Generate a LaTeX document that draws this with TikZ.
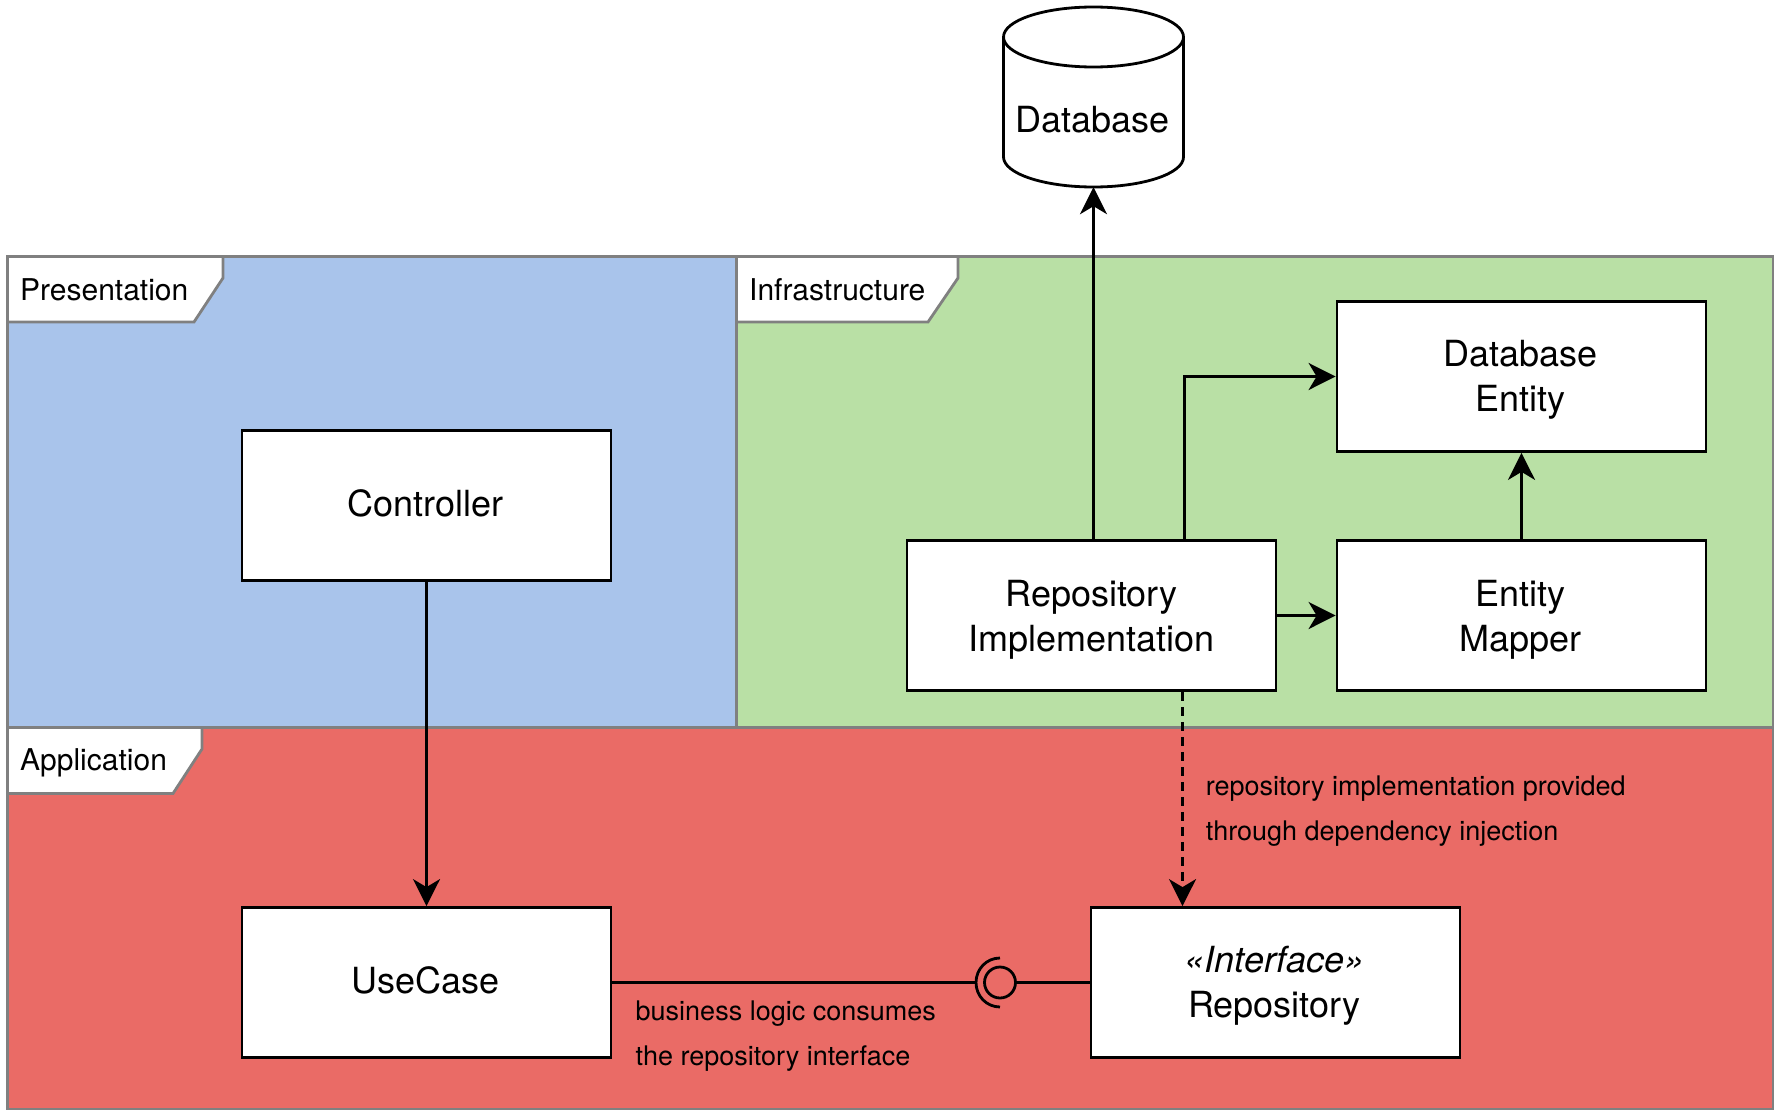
\documentclass[tikz,border=0pt]{standalone}
\usepackage{fontspec}
\setmainfont{TeX Gyre Heros}
\usetikzlibrary{arrows.meta,calc}
\definecolor{panelblue}{HTML}{A9C4EB}
\definecolor{panelgreen}{HTML}{B9E0A5}
\definecolor{panelred}{HTML}{EA6B66}
\definecolor{panelgrey}{HTML}{808080}
\newcommand{\firstline}{\rule{0pt}{35pt}}
\newcommand{\firstlinehi}{\rule{0pt}{33pt}}
\newcommand{\nudge}{\hspace*{2.2pt}}
\newcommand{\oneline}[1]{\raisebox{-11.3pt}[0pt][0pt]{#1\nudge}}
\tikzset{
  panel/.style={draw=panelgrey,line width=2.8pt},
  tabshape/.style={draw=panelgrey,fill=white,line width=2.8pt,line join=miter},
  tabtext/.style={inner sep=0pt,anchor=west,font=\fontsize{30}{36}\selectfont},
  boxnode/.style={draw=black,fill=white,line width=2.8pt,minimum width=369pt,minimum height=150pt,inner sep=0pt,align=center,font=\fontsize{36}{45}\selectfont},
  link/.style={draw=black,line width=2.8pt},
  arrowlink/.style={link,-{Stealth[length=27pt,width=27pt,inset=8pt]}},
  note/.style={inner sep=0pt,anchor=west,font=\fontsize{27}{32}\selectfont},
}
\begin{document}
\begin{tikzpicture}[x=1pt,y=-1pt]
\useasboundingbox (0,0) rectangle (1779,1116);
% panels
\fill[panelblue] (7.5,256.5) rectangle (736.5,727.5);
\fill[panelgreen] (736.5,256.5) rectangle (1773,727.5);
\fill[panelred] (7.5,727.5) rectangle (1773,1109);
\draw[panel] (7.5,256.5) rectangle (736.5,727.5);
\draw[panel] (736.5,256.5) rectangle (1773,727.5);
\draw[panel] (7.5,727.5) rectangle (1773,1109);
% tabs
\draw[tabshape] (7.5,256.5) -- (223,256.5) -- (223,278) -- (194,322) -- (7.5,322) -- cycle;
\node[tabtext] (tabp) at (20,290) {Presentation};
\draw[tabshape] (736.5,256.5) -- (958,256.5) -- (958,278) -- (928,322) -- (736.5,322) -- cycle;
\node[tabtext] (tabi) at (749,290) {Infrastructure};
\draw[tabshape] (7.5,727.5) -- (202,727.5) -- (202,749) -- (173,793.5) -- (7.5,793.5) -- cycle;
\node[tabtext] (taba) at (20,762.5) {Application};
% database
\draw[draw=black,fill=white,line width=2.8pt]
  (1003.5,37) .. controls (1003.5,20.5) and (1043.5,7) .. (1093.5,7)
  .. controls (1143.5,7) and (1183.5,20.5) .. (1183.5,37)
  -- (1183.5,157) .. controls (1183.5,173.5) and (1143.5,187) .. (1093.5,187)
  .. controls (1043.5,187) and (1003.5,173.5) .. (1003.5,157) -- cycle;
\draw[draw=black,line width=2.8pt]
  (1003.5,37) .. controls (1003.5,53.5) and (1043.5,67) .. (1093.5,67)
  .. controls (1143.5,67) and (1183.5,53.5) .. (1183.5,37);
\node[minimum width=180pt,minimum height=180pt,inner sep=0pt,font=\fontsize{36}{45}\selectfont] (db) at (1093.5,97) {\raisebox{-35pt}[0pt][0pt]{Database\nudge}};
% boxes
\node[boxnode] (ctrl) at (426.5,505.5) {\oneline{Controller}};
\node[boxnode] (uc) at (426.5,982.5) {\oneline{UseCase}};
\node[boxnode] (repo) at (1275.5,982.5) {\firstlinehi\textit{«Interface»}\nudge\\Repository\nudge};
\node[boxnode] (impl) at (1091.5,615.5) {\firstline Repository\\Implementation};
\node[boxnode] (ent) at (1521.5,376.5) {\firstlinehi Database\nudge\\Entity\nudge};
\node[boxnode] (map) at (1521.5,615.5) {\firstline Entity\nudge\\Mapper\nudge};
% socket
\node[draw=black,line width=2.8pt,circle,minimum size=31pt,inner sep=0pt] (sock) at (1000,982.5) {};
\coordinate (sockl) at (976,982.5);
\draw[link] (1000,958) .. controls (986.5,958) and (976,969) .. (sockl)
  .. controls (976,996) and (986.5,1007) .. (1000,1007);
% connectors
\draw[arrowlink] (ctrl) -- (uc);
\draw[arrowlink] ([xshift=2pt]impl.north) -- (db.south);
\draw[arrowlink] ([xshift=93pt]impl.north) |- (ent.west);
\draw[arrowlink] (impl) -- (map);
\draw[arrowlink] (map) -- (ent);
\draw[arrowlink,dash pattern=on 9pt off 6pt] ([xshift=91pt]impl.south) -- ([xshift=91pt]impl.south |- repo.north);
\draw[link] (uc.east) -- (sockl);
\draw[link] (sock.east) -- (repo.west);
% notes
\node[note] (n1) at (1205.7,789) {repository implementation provided};
\node[note] (n2) at (1205.7,834) {through dependency injection};
\node[note] (n3) at (635.5,1014) {business logic consumes};
\node[note] (n4) at (635.5,1059) {the repository interface};
\end{tikzpicture}
\end{document}
